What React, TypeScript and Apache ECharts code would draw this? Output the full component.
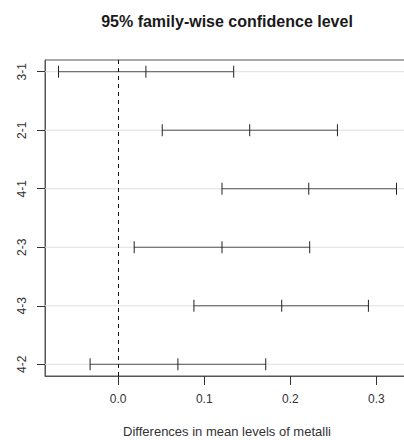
import React, { useEffect, useRef } from "react";
import * as echarts from "echarts";

const comparisons = ["3-1", "2-1", "4-1", "2-3", "4-3", "4-2"];
const lowerValues = [-0.0693, 0.0512, 0.1206, 0.0186, 0.088, -0.0326];
const diffValues = [0.0322, 0.1528, 0.2214, 0.1206, 0.19, 0.0694];
const upperValues = [0.1342, 0.2547, 0.3233, 0.2225, 0.2907, 0.1714];
const xTicks = [0, 0.1, 0.2, 0.3];
const titleText = "95% family-wise confidence level";
const xTitle = "Differences in mean levels of metalli";

const FONT = "'Liberation Sans', Arial, sans-serif";

export default function App() {
  const ref = useRef<HTMLDivElement>(null);
  useEffect(() => {
    if (!ref.current) return;
    const chart = echarts.init(ref.current, null, { renderer: "svg" });
    const rows = comparisons.map((c, i) => [i + 1, lowerValues[i], diffValues[i], upperValues[i]]);
    const yIdx = comparisons.map((_, i) => i + 1);
    chart.setOption({
      animation: false,
      backgroundColor: "#ffffff",
      grid: {
        left: 45,
        top: 60,
        height: 316,
        width: 365,
        show: true,
        borderColor: "#555",
        borderWidth: 1,
        containLabel: false,
      },
      xAxis: {
        type: "value",
        min: -0.085,
        max: 0.339,
        axisLine: { show: true, onZero: false, lineStyle: { color: "#555", width: 1 } },
        axisTick: { show: true, length: 9, customValues: xTicks, lineStyle: { color: "#333" } },
        axisLabel: {
          show: true,
          customValues: xTicks,
          formatter: (v: number) => v.toFixed(1),
          margin: 17,
          fontSize: 12,
          color: "#333",
          fontFamily: FONT,
        },
        splitLine: { show: false },
      },
      yAxis: {
        type: "value",
        inverse: true,
        min: 0.8,
        max: 6.2,
        axisLine: { show: true, onZero: false, lineStyle: { color: "#555", width: 1 } },
        axisTick: { show: true, length: 8, customValues: yIdx, lineStyle: { color: "#333" } },
        axisLabel: {
          show: true,
          customValues: yIdx,
          formatter: (v: number) => comparisons[Math.round(v) - 1] ?? "",
          rotate: 90,
          margin: 17,
          fontSize: 12,
          color: "#333",
          fontFamily: FONT,
        },
        splitLine: { show: false },
      },
      graphic: [
        {
          type: "text",
          x: 227,
          y: 21,
          style: {
            text: titleText,
            fontSize: 16,
            fontWeight: "bold",
            fontFamily: FONT,
            fill: "#1a1a1a",
            textAlign: "center",
            textVerticalAlign: "middle",
          },
        },
        {
          type: "text",
          x: 227,
          y: 431,
          style: {
            text: xTitle,
            fontSize: 13,
            fontFamily: FONT,
            fill: "#333",
            textAlign: "center",
            textVerticalAlign: "middle",
          },
        },
      ],
      series: [
        {
          type: "custom",
          data: rows,
          encode: { x: [1, 2, 3], y: 0 },
          clip: false,
          renderItem: (params: any, api: any) => {
            const idx = api.value(0);
            const lo = api.coord([api.value(1), idx]);
            const mid = api.coord([api.value(2), idx]);
            const hi = api.coord([api.value(3), idx]);
            const cs = params.coordSys;
            const y = lo[1];
            const h = 6;
            return {
              type: "group",
              children: [
                {
                  type: "line",
                  shape: { x1: cs.x, y1: y, x2: cs.x + cs.width, y2: y },
                  style: { stroke: "#dedede", lineWidth: 1 },
                  z2: 0,
                },
                {
                  type: "line",
                  shape: { x1: lo[0], y1: y, x2: hi[0], y2: y },
                  style: { stroke: "#555", lineWidth: 1 },
                  z2: 2,
                },
                {
                  type: "line",
                  shape: { x1: lo[0], y1: y - h, x2: lo[0], y2: y + h },
                  style: { stroke: "#222", lineWidth: 1 },
                  z2: 3,
                },
                {
                  type: "line",
                  shape: { x1: mid[0], y1: y - h, x2: mid[0], y2: y + h },
                  style: { stroke: "#222", lineWidth: 1 },
                  z2: 3,
                },
                {
                  type: "line",
                  shape: { x1: hi[0], y1: y - h, x2: hi[0], y2: y + h },
                  style: { stroke: "#222", lineWidth: 1 },
                  z2: 3,
                },
              ],
            };
          },
          markLine: {
            silent: true,
            symbol: "none",
            label: { show: false },
            lineStyle: { color: "#111", type: [4, 4], width: 1 },
            data: [{ xAxis: 0 }],
          },
        },
      ],
    });
    return () => chart.dispose();
  }, []);
  return (
    <div style={{ width: 404, height: 440, position: "absolute", left: 0, top: 0, overflow: "hidden", background: "#fff" }}>
      <div ref={ref} style={{ width: 420, height: 440 }} />
    </div>
  );
}
